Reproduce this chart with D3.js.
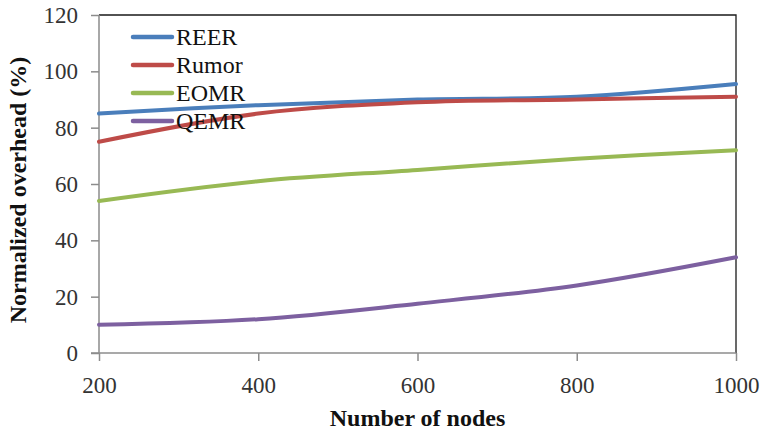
<!DOCTYPE html>
<html>
<head>
<meta charset="utf-8">
<script src="https://cdn.jsdelivr.net/npm/d3@7"></script>
<style>
  html, body { margin: 0; padding: 0; background: #fff; }
  svg { display: block; }
  svg text { font-family: "Liberation Serif", "Times New Roman", Times, "DejaVu Serif", serif; }
</style>
</head>
<body>
<svg id="chart" width="764" height="433"></svg>
<script>
// Node counts on the x axis
const nodes = [200, 400, 600, 800, 1000];

// Normalized overhead (%) per protocol
const reer  = [85, 88, 90, 91, 95.5];
const rumor = [75, 85, 89, 90, 91];
const eomr  = [54, 61, 65, 69, 72];
const qemr  = [10, 12, 17.5, 24, 34];

const seriesNames  = ["REER", "Rumor", "EOMR", "QEMR"];
const seriesColors = ["#4A7EBB", "#BE4B48", "#98B954", "#7D60A0"];
const seriesValues = [reer, rumor, eomr, qemr];

const yTicks = [0, 20, 40, 60, 80, 100, 120];
const xTicks = [200, 400, 600, 800, 1000];

const svg = d3.select("#chart");
const W = 764, H = 433;
const plot = { left: 99, right: 736, top: 15, bottom: 353 };
const serif = "Liberation Serif, Times New Roman, Times, DejaVu Serif, serif";

svg.append("rect").attr("width", W).attr("height", H).attr("fill", "#fff");

const x = d3.scaleLinear().domain([200, 1000]).range([plot.left, plot.right]);
const y = d3.scaleLinear().domain([0, 120]).range([plot.bottom, plot.top]);

// Plot frame: top and right edges
svg.append("path")
  .attr("d", `M${plot.left},${plot.top}H${plot.right}V${plot.bottom}`)
  .attr("fill", "none")
  .attr("stroke", "#1a1a1a")
  .attr("stroke-width", 1.3);

// Y axis
const yAxis = svg.append("g")
  .attr("transform", `translate(${plot.left},0)`)
  .call(d3.axisLeft(y).tickValues(yTicks).tickFormat(d3.format("d")).tickSize(8).tickPadding(13));
// X axis
const xAxis = svg.append("g")
  .attr("transform", `translate(0,${plot.bottom})`)
  .call(d3.axisBottom(x).tickValues(xTicks).tickFormat(d3.format("d")).tickSize(8).tickPadding(16));

[yAxis, xAxis].forEach(g => {
  g.attr("font-family", serif).attr("font-size", 23);
  g.select(".domain").attr("stroke", "#8c8c8c").attr("stroke-width", 1.5);
  g.selectAll(".tick line").attr("stroke", "#8c8c8c").attr("stroke-width", 1.5);
  g.selectAll(".tick text").attr("fill", "#333");
});
yAxis.select(".domain").attr("d", `M-8,${plot.bottom}H0V${plot.top}`);
xAxis.select(".domain").attr("d", `M${plot.left},0H${plot.right}`);

// Series lines (smoothed)
const line = d3.line()
  .x((d, i) => x(nodes[i]))
  .y(d => y(d))
  .curve(d3.curveCardinal.tension(0));

seriesValues.forEach((vals, k) => {
  svg.append("path")
    .datum(vals)
    .attr("d", line)
    .attr("fill", "none")
    .attr("stroke", seriesColors[k])
    .attr("stroke-width", 4)
    .attr("stroke-linecap", "round")
    .attr("stroke-linejoin", "round");
});

// Legend
const legend = svg.append("g").attr("font-family", serif).attr("font-size", 24);
seriesNames.forEach((name, k) => {
  const ly = 37 + k * 28;
  legend.append("line")
    .attr("x1", 133).attr("x2", 172)
    .attr("y1", ly).attr("y2", ly)
    .attr("stroke", seriesColors[k])
    .attr("stroke-width", 4.5)
    .attr("stroke-linecap", "round");
  legend.append("text")
    .attr("x", 176).attr("y", ly)
    .attr("dy", "0.35em")
    .attr("fill", "#111")
    .text(name);
});

// Axis titles
svg.append("text")
  .attr("x", (plot.left + plot.right) / 2)
  .attr("y", 426)
  .attr("text-anchor", "middle")
  .attr("fill", "#111")
  .attr("font-family", serif)
  .attr("font-weight", "bold")
  .attr("font-size", 24)
  .text("Number of nodes");

svg.append("text")
  .attr("transform", `translate(26,${(plot.top + plot.bottom) / 2 + 6}) rotate(-90)`)
  .attr("text-anchor", "middle")
  .attr("fill", "#111")
  .attr("font-family", serif)
  .attr("font-weight", "bold")
  .attr("font-size", 24)
  .text("Normalized overhead (%)");
</script>
</body>
</html>
